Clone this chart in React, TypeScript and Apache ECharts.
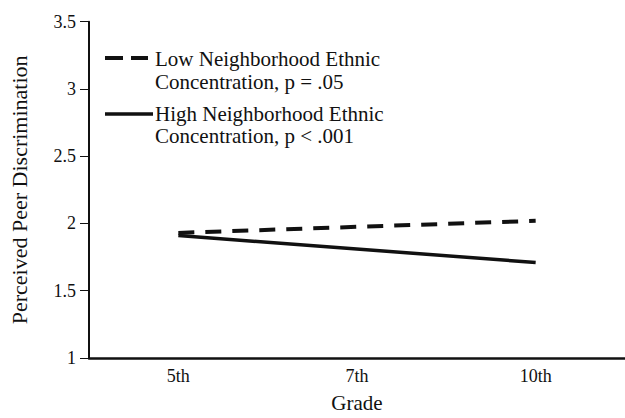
import React, { useEffect, useRef } from "react";
import * as echarts from "echarts";

const grades = ["5th", "7th", "10th"];
const lowConcentration = [1.93, null, 2.02];
const highConcentration = [1.91, null, 1.71];
const lowName = "Low Neighborhood Ethnic Concentration, p = .05";
const highName = "High Neighborhood Ethnic Concentration, p < .001";
const lowLegendLines = ["Low Neighborhood Ethnic", "Concentration, p = .05"];
const highLegendLines = ["High Neighborhood Ethnic", "Concentration, p < .001"];

const FONT = '"Liberation Serif", "Times New Roman", serif';
const INK = "#111";

export default function App() {
  const ref = useRef<HTMLDivElement>(null);
  useEffect(() => {
    document.body.style.margin = "0";
    if (!ref.current) return;
    const chart = echarts.init(ref.current, undefined, { renderer: "svg" });
    const legendText = (text: string, y: number) => ({
      type: "text",
      x: 155,
      y,
      style: { text, fill: INK, font: `21px ${FONT}`, verticalAlign: "middle", align: "left" },
    });
    chart.setOption({
      animation: false,
      backgroundColor: "#fff",
      grid: { left: 77, right: 0, top: 21.7, bottom: 53.5, containLabel: false },
      xAxis: {
        type: "category",
        data: grades,
        boundaryGap: true,
        name: "Grade",
        nameLocation: "middle",
        nameGap: 34,
        nameTextStyle: { fontFamily: FONT, fontSize: 21, color: INK, verticalAlign: "top" },
        axisLine: { lineStyle: { color: INK, width: 2.5 } },
        axisTick: { show: false },
        axisLabel: { fontFamily: FONT, fontSize: 18, color: INK, margin: 9 },
        splitLine: { show: false },
      },
      yAxis: {
        type: "value",
        min: 1,
        max: 3.5,
        interval: 0.5,
        name: "Perceived Peer Discrimination",
        nameLocation: "middle",
        nameGap: 59,
        nameTextStyle: { fontFamily: FONT, fontSize: 22, color: INK },
        axisLine: { show: true, lineStyle: { color: INK, width: 2 } },
        axisTick: { show: true, length: 9, lineStyle: { color: INK, width: 1 } },
        axisLabel: { fontFamily: FONT, fontSize: 18, color: INK, margin: 13 },
        splitLine: { show: false },
      },
      series: [
        {
          name: lowName,
          type: "line",
          data: lowConcentration,
          connectNulls: true,
          showSymbol: false,
          symbol: "none",
          lineStyle: { color: INK, width: 4, type: [16, 11] },
        },
        {
          name: highName,
          type: "line",
          data: highConcentration,
          connectNulls: true,
          showSymbol: false,
          symbol: "none",
          lineStyle: { color: INK, width: 3.5, type: "solid" },
        },
      ],
      graphic: [
        {
          type: "line",
          shape: { x1: 105, y1: 58, x2: 148, y2: 58 },
          style: { stroke: INK, lineWidth: 4, lineDash: [18, 8] },
        },
        legendText(lowLegendLines[0], 59),
        legendText(lowLegendLines[1], 82),
        {
          type: "line",
          shape: { x1: 105, y1: 114, x2: 153, y2: 114 },
          style: { stroke: INK, lineWidth: 3.5 },
        },
        legendText(highLegendLines[0], 114),
        legendText(highLegendLines[1], 136),
      ],
    });
    return () => chart.dispose();
  }, []);
  return <div ref={ref} style={{ width: 625, height: 418 }} />;
}
